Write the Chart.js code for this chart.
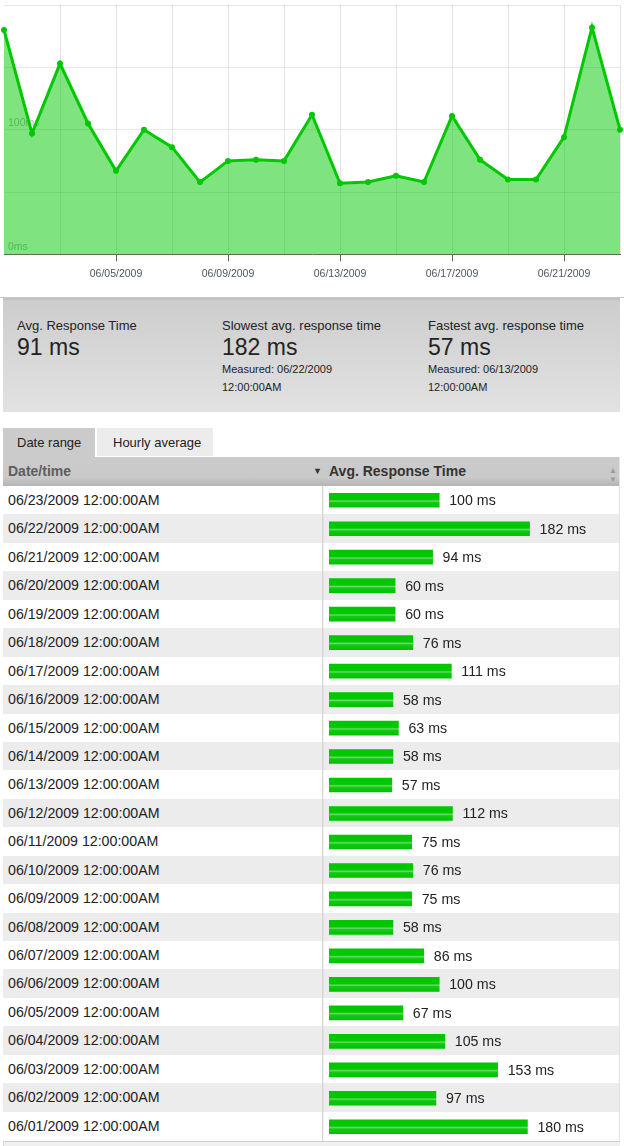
<!DOCTYPE html>
<html>
<head>
<meta charset="utf-8">
<script src="https://cdn.jsdelivr.net/npm/chart.js@4.4.1/dist/chart.umd.min.js"></script>
<style>
  html, body { margin: 0; padding: 0; background: #fff; }
  body { width: 624px; height: 1146px; position: relative; overflow: hidden;
         font-family: "Liberation Sans", Arial, sans-serif; color: #222; }
  .abs { position: absolute; }
  #trend { left: 0; top: 0; width: 624px; height: 286px; }
  #sep { left: 0; top: 297px; width: 624px; height: 1px; background: #c8c8c8; }
  #stats { left: 3px; top: 298px; width: 617px; height: 114px;
           background: linear-gradient(#bcbcbc 0, #cdcdcd 3px, #e2e2e2 100%); }
  .st { position: absolute; top: 0; }
  .st .lbl { position: absolute; top: 20px; font-size: 13px; white-space: nowrap; color: #222; }
  .st .big { position: absolute; top: 36px; font-size: 23px; white-space: nowrap; color: #222; }
  .st .sm { position: absolute; font-size: 11px; white-space: nowrap; color: #222; }
  .tab { top: 428px; height: 29px; font-size: 13px; line-height: 29px; box-sizing: border-box; }
  #tab1 { left: 3px; width: 92px; background: #cbcbcb; padding-left: 14px; }
  #tab2 { left: 96px; width: 117px; background: #ececec; padding-left: 16px; height: 28px;
          border-left: 1px solid #fff; }
  #head { left: 3px; top: 457px; width: 617px; height: 29px;
          background: linear-gradient(#cbcbcb 0, #c9c9c9 70%, #b4b4b4 100%); }
  #head div { position: absolute; top: 0; line-height: 28px; font-size: 14px; font-weight: bold; }
  #rows { left: 3px; top: 486px; width: 617px; }
  .row { height: 28.45px; line-height: 28.45px; font-size: 14.2px; padding-left: 5px; box-sizing: border-box; }
  .row.alt { background: #ececec; }
  #colline { left: 322px; top: 486px; width: 1px; height: 655px; background: #d6d6d6;
             box-shadow: 1px 0 1px rgba(0,0,0,0.06); }
  #rightline { left: 619px; top: 457px; width: 1px; height: 684px; background: #e4e4e4; }
  #bars { left: 323px; top: 486px; width: 297px; height: 655px; }
  #foot { left: 3px; top: 1141px; width: 617px; height: 5px; background: #f0f0f0;
          border-top: 1px solid #cfcfcf; border-left: 1px solid #d8d8d8; box-sizing: border-box; }
</style>
</head>
<body>
<div id="trend" class="abs"><canvas id="trendCanvas"></canvas></div>
<div id="sep" class="abs"></div>
<div id="stats" class="abs"></div>
<div id="tab1" class="abs tab">Date range</div>
<div id="tab2" class="abs tab">Hourly average</div>
<div id="head" class="abs">
  <div style="left:5px;color:#5e5e5e;">Date/time</div>
  <div style="left:310px;font-size:9px;color:#333;">&#9660;</div>
  <div style="left:326px;color:#333;">Avg. Response Time</div>
  <div style="left:606px;font-size:8px;line-height:9px;top:9px;color:#9a9a9a;">&#9650;<br>&#9660;</div>
</div>
<div id="rows" class="abs"></div>
<div id="colline" class="abs"></div>
<div id="rightline" class="abs"></div>
<div id="bars" class="abs"><canvas id="barCanvas"></canvas></div>
<div id="foot" class="abs"></div>

<script>
const dates = [
  '06/01/2009', '06/02/2009', '06/03/2009', '06/04/2009', '06/05/2009', '06/06/2009',
  '06/07/2009', '06/08/2009', '06/09/2009', '06/10/2009', '06/11/2009', '06/12/2009',
  '06/13/2009', '06/14/2009', '06/15/2009', '06/16/2009', '06/17/2009', '06/18/2009',
  '06/19/2009', '06/20/2009', '06/21/2009', '06/22/2009', '06/23/2009'
];
const responseMs = [
  180, 97, 153, 105, 67, 100, 86, 58, 75, 76, 75, 112,
  57, 58, 63, 58, 111, 76, 60, 60, 94, 182, 100
];
const yTicks = [0, 50, 100, 150, 200];
const yLabelled = [0, 100];
const timeOfDay = '12:00:00AM';

const green = '#00c800';
const font = "'Liberation Sans', Arial, sans-serif";

// stats panel
const avg = Math.round(responseMs.reduce((a, b) => a + b, 0) / responseMs.length);
const maxV = Math.max(...responseMs);
const minV = Math.min(...responseMs);
const slowDate = dates[responseMs.indexOf(maxV)];
const fastDate = dates[responseMs.indexOf(minV)];

const stats = document.getElementById('stats');
stats.innerHTML = `
<div class="st" style="left:14px">
  <div class="lbl">Avg. Response Time</div>
  <div class="big">${avg} ms</div>
</div>
<div class="st" style="left:219px">
  <div class="lbl">Slowest avg. response time</div>
  <div class="big">${maxV} ms</div>
  <div class="sm" style="top:65px">Measured: ${slowDate}</div>
  <div class="sm" style="top:83px">${timeOfDay}</div>
</div>
<div class="st" style="left:425px">
  <div class="lbl">Fastest avg. response time</div>
  <div class="big">${minV} ms</div>
  <div class="sm" style="top:65px">Measured: ${fastDate}</div>
  <div class="sm" style="top:83px">${timeOfDay}</div>
</div>`;

// table rows, newest first
const tableDates = dates.slice().reverse();
const tableValues = responseMs.slice().reverse();
let rowsHtml = '';
tableDates.forEach((d, i) => {
  rowsHtml += `<div class="row${i % 2 ? ' alt' : ''}">${d} ${timeOfDay}</div>`;
});
document.getElementById('rows').innerHTML = rowsHtml;

// area chart
new Chart(document.getElementById('trendCanvas'), {
  type: 'line',
  data: {
    labels: dates,
    datasets: [{
      data: responseMs,
      borderColor: green,
      borderWidth: 3,
      backgroundColor: 'rgba(0,200,0,0.5)',
      fill: 'origin',
      tension: 0,
      pointRadius: 3,
      pointBackgroundColor: green,
      pointBorderWidth: 0
    }]
  },
  options: {
    responsive: true,
    maintainAspectRatio: false,
    animation: false,
    layout: { padding: { left: 4, right: 4, top: 5, bottom: 0 } },
    plugins: { legend: { display: false }, tooltip: { enabled: false } },
    scales: {
      x: {
        offset: false,
        border: { display: true, color: '#666', width: 1 },
        afterFit: (s) => { s.paddingLeft = 0; s.paddingRight = 0; },
        grid: {
          color: (c) => (c.index % 2 === 0 && c.index > 0) ? 'rgba(0,0,0,0.1)' : 'rgba(0,0,0,0)',
          tickColor: (c) => (c.index % 4 === 0 && c.index > 0) ? '#666' : 'rgba(0,0,0,0)',
          tickLength: 7
        },
        ticks: {
          autoSkip: false,
          maxRotation: 0,
          padding: 6,
          color: '#4f5563',
          font: { family: font, size: 10.5 },
          callback: function (v, i) { return (i % 4 === 0 && i > 0) ? dates[i] : ''; }
        }
      },
      y: {
        min: yTicks[0],
        max: yTicks[yTicks.length - 1],
        z: 1,
        border: { display: false },
        afterFit: (s) => { s.width = 0; s.paddingTop = 0; s.paddingBottom = 0; },
        grid: { color: 'rgba(0,0,0,0.09)', drawTicks: false },
        afterBuildTicks: (s) => { s.ticks = yTicks.map(v => ({ value: v })); },
        ticks: {
          mirror: true,
          padding: 4,
          labelOffset: -7,
          color: '#a8a8a8',
          font: { family: font, size: 10.5 },
          callback: (v) => yLabelled.includes(v) ? v + 'ms' : ''
        }
      }
    }
  }
});

// bars in the table column
const valueLabels = {
  id: 'valueLabels',
  afterDatasetsDraw(chart) {
    const ctx = chart.ctx;
    const meta = chart.getDatasetMeta(0);
    ctx.save();
    ctx.font = '14.2px ' + font;
    ctx.fillStyle = '#222';
    ctx.textBaseline = 'middle';
    ctx.textAlign = 'left';
    meta.data.forEach((bar, i) => {
      ctx.fillText(tableValues[i] + ' ms', bar.x + 10, bar.y + 1);
    });
    ctx.restore();
  }
};

new Chart(document.getElementById('barCanvas'), {
  type: 'bar',
  data: {
    labels: tableDates,
    datasets: [{
      data: tableValues,
      barThickness: 14,
      borderWidth: 0,
      backgroundColor: (c) => {
        const ys = c.chart.scales.y;
        if (!ys || c.dataIndex === undefined) return green;
        const y = ys.getPixelForValue(c.dataIndex);
        if (!Number.isFinite(y)) return green;
        const g = c.chart.ctx.createLinearGradient(0, y - 7, 0, y + 7);
        g.addColorStop(0, '#00c600');
        g.addColorStop(0.45, '#00c800');
        g.addColorStop(0.56, '#6bd96b');
        g.addColorStop(0.66, '#14c814');
        g.addColorStop(1, '#00c200');
        return g;
      }
    }]
  },
  options: {
    indexAxis: 'y',
    responsive: true,
    maintainAspectRatio: false,
    animation: false,
    layout: { padding: { left: 6, right: 0, top: 0, bottom: 0 } },
    plugins: { legend: { display: false }, tooltip: { enabled: false } },
    scales: {
      x: { display: false, min: 0, max: 264 },
      y: { display: false }
    }
  },
  plugins: [valueLabels]
});
</script>
</body>
</html>
